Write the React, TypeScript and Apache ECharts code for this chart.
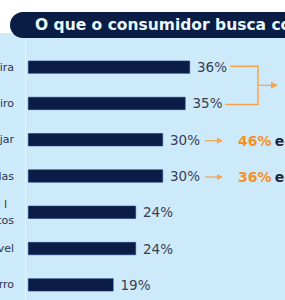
import React, { useEffect, useRef } from "react";
import * as echarts from "echarts";

const title = "O que o consumidor busca com o delivery";
const categories = [
  "Facilidade na rotina financeira",
  "Economizar tempo e dinheiro",
  "Facilidade para planejar",
  "Evitar filas e compras demoradas",
  "Mais variedade de l\u00a0\u00a0\nde produtos",
  "Ter um consumo mais sustentável",
  "Não precisar sair com o carro",
];
const values = [36, 35, 30, 30, 24, 24, 19];
// comparison annotations: row index -> highlighted value
const bracketRows = [0, 1];
const arrowRows = [2, 3];
const arrowValues = ["46%", "36%"];
const arrowSuffix = "em 2022";

const NAVY = "#0b1d47";
const ORANGE = "#f7a24c";
const ORANGE_TXT = "#f8901f";
const FONT = "'DejaVu Sans'";

export default function App() {
  const ref = useRef<HTMLDivElement>(null);
  useEffect(() => {
    const chart = echarts.init(ref.current!, undefined, { renderer: "svg" });
    const option: any = {
      animation: false,
      grid: { left: 28, top: 49, width: 225, height: 254, containLabel: false, outerBoundsMode: "none" },
      xAxis: {
        type: "value",
        min: 0,
        max: 50,
        show: false,
      },
      yAxis: {
        type: "category",
        inverse: true,
        data: categories,
        axisLine: { show: false },
        axisTick: { show: false },
        axisLabel: {
          margin: 14,
          fontSize: 11,
          color: "#2c3550",
          fontFamily: FONT,
          lineHeight: 16,
        },
        splitLine: { show: false },
      },
      series: [
        {
          type: "bar",
          data: values,
          barWidth: 13,
          itemStyle: { color: NAVY, borderColor: "#1b3a78", borderWidth: 0.6 },
          label: {
            show: true,
            position: "right",
            distance: 7,
            formatter: "{c}%",
            fontSize: 13.5,
            fontFamily: FONT,
            color: "#3a4052",
          },
        },
      ],
    };
    chart.setOption(option);

    const end = (i: number) => chart.convertToPixel({ gridIndex: 0 }, [values[i], i]) as number[];
    const g: any[] = [];
    // faint separator line
    g.push({ type: "line", shape: { x1: 25.5, y1: 40, x2: 25.5, y2: 300 }, style: { stroke: "#e4f5fe", lineWidth: 1 } });
    // title pill
    g.push({ type: "rect", shape: { x: 10, y: 12, width: 330, height: 26, r: [13, 0, 0, 13] }, style: { fill: "#0a1e45" } });
    g.push({
      type: "text",
      x: 35,
      y: 25,
      style: { text: title, fill: "#e9f8ff", font: `700 15.5px ${FONT}`, verticalAlign: "middle", textAlign: "left" },
    });
    // bracket for first two rows
    const p0 = end(bracketRows[0]);
    const p1 = end(bracketRows[1]);
    const bx = 258;
    g.push({
      type: "polyline",
      shape: { points: [[p0[0] + 40, p0[1] - 1], [bx, p0[1] - 1], [bx, p1[1] + 1], [p1[0] + 40, p1[1] + 1]] },
      style: { stroke: ORANGE, lineWidth: 1.5, fill: "none" },
    });
    const my = (p0[1] + p1[1]) / 2;
    g.push({ type: "line", shape: { x1: bx, y1: my, x2: 272, y2: my }, style: { stroke: ORANGE, lineWidth: 1.2 } });
    g.push({ type: "polygon", shape: { points: [[271, my - 3.5], [278, my], [271, my + 3.5]] }, style: { fill: ORANGE } });
    // arrows for rows 3 and 4
    arrowRows.forEach((r, k) => {
      const p = end(r);
      const x1 = p[0] + 42;
      const y = p[1] + 1;
      g.push({ type: "line", shape: { x1, y1: y, x2: x1 + 13, y2: y }, style: { stroke: ORANGE, lineWidth: 1.2 } });
      g.push({ type: "polygon", shape: { points: [[x1 + 12, y - 3], [x1 + 18, y], [x1 + 12, y + 3]] }, style: { fill: ORANGE } });
      g.push({
        type: "text",
        x: 238,
        y,
        style: {
          text: `{a|${arrowValues[k]}} {b|${arrowSuffix}}`,
          verticalAlign: "middle",
          rich: {
            a: { fill: ORANGE_TXT, font: `700 14px ${FONT}` },
            b: { fill: "#1c2540", font: `700 14px ${FONT}` },
          },
        },
      });
    });
    chart.setOption({ graphic: g });
    return () => chart.dispose();
  }, []);
  return (
    <div
      ref={ref}
      style={{
        position: "fixed",
        left: 0,
        top: 0,
        width: 285,
        height: 300,
        background: "linear-gradient(#ffffff 0px, #ffffff 33px, #cdeafb 33px)",
      }}
    />
  );
}
